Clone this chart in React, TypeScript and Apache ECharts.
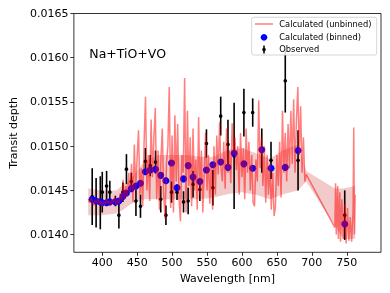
import { useEffect, useRef } from "react";
import * as echarts from "echarts";

// Unbinned model spectrum (wavelength in nm, transit depth)
const unbinnedWavelength = [
  380, 382, 384, 386, 388, 390, 392, 394, 396, 398, 400, 402, 404, 406, 408, 410, 412, 414, 416, 418, 420, 422, 424,
  426, 428, 430, 432, 434, 436, 438, 440, 442, 444,
  446, 448, 450, 452, 454, 456, 458, 460, 462, 464,
  466, 468, 470, 472, 474, 476, 478, 480, 482, 484,
  486, 488, 490, 492, 494, 496, 498, 500, 502, 504,
  506, 508, 510, 512, 514, 516, 518, 520, 522, 524,
  526, 528, 530, 532, 534, 536, 538, 540, 542, 544,
  546, 548, 550, 552, 554, 556, 558, 560, 562, 564,
  566, 568, 570, 572, 574, 576, 578, 580, 582, 584,
  586, 588, 590, 592, 594, 596, 598, 600, 602, 604,
  606, 608, 610, 612, 614, 616, 618, 620, 622, 624,
  626, 628, 630, 632, 634, 636, 638, 640, 642, 644,
  646, 648, 650, 652, 654, 656, 658, 660, 662, 664,
  666, 668, 670, 672, 674, 676, 678, 680, 682, 684,
  686, 688, 690, 692,
  733, 734, 735, 737, 738, 740, 741, 743, 745, 747, 749, 751, 753, 755, 757, 759, 760, 761, 762,
];
const unbinnedDepth = [
  0.01440, 0.01436, 0.01442, 0.01437, 0.01433, 0.01439, 0.01435, 0.01441, 0.01434, 0.01438, 0.01432, 0.01437,
  0.01434, 0.01440, 0.01435, 0.01438, 0.01433, 0.01440, 0.01436, 0.01442, 0.01434, 0.01439, 0.01435,
  0.01447, 0.01438, 0.01462, 0.01440, 0.01455, 0.01443, 0.01470, 0.01448, 0.01480, 0.01437,
  0.01502, 0.01450, 0.01488, 0.01518, 0.01445, 0.01475, 0.01432, 0.01505, 0.01556, 0.01450,
  0.01490, 0.01438, 0.01530, 0.01465, 0.01510, 0.01543, 0.01440, 0.01495, 0.01428, 0.01485,
  0.01520, 0.01445, 0.01418, 0.01480, 0.01500, 0.01567, 0.01430, 0.01512, 0.01425, 0.01535,
  0.01460, 0.01525, 0.01440, 0.01415, 0.01490, 0.01470, 0.01577, 0.01425, 0.01540, 0.01455,
  0.01510, 0.01432, 0.01520, 0.01450, 0.01485, 0.01428, 0.01533, 0.01445, 0.01495, 0.01425,
  0.01470, 0.01515, 0.01450, 0.01490, 0.01435, 0.01480, 0.01428, 0.01500, 0.01445, 0.01512,
  0.01468, 0.01527, 0.01475, 0.01460, 0.01505, 0.01452, 0.01520, 0.01470, 0.01495, 0.01458,
  0.01526, 0.01490, 0.01510, 0.01473, 0.01500, 0.01445, 0.01515, 0.01465, 0.01498, 0.01440,
  0.01520, 0.01470, 0.01505, 0.01450, 0.01490, 0.01436, 0.01432, 0.01485, 0.01460, 0.01552,
  0.01475, 0.01510, 0.01455, 0.01500, 0.01436, 0.01490, 0.01445, 0.01480, 0.01428, 0.01470,
  0.01421, 0.01432, 0.01490, 0.01455, 0.01505, 0.01442, 0.01540, 0.01470, 0.01515, 0.01460,
  0.01525, 0.01475, 0.01540, 0.01480, 0.01553, 0.01470, 0.01530, 0.01567, 0.01490, 0.01545,
  0.01470, 0.01510, 0.01460, 0.01468,
  0.01408, 0.01458, 0.01400, 0.01455, 0.01395, 0.01448, 0.01392, 0.01440, 0.01395, 0.01435, 0.01390, 0.01430,
  0.01393, 0.01420, 0.01392, 0.01425, 0.01521, 0.01400, 0.01445,
];

// Model uncertainty band
const bandWavelength = [380, 400, 420, 430, 440, 460, 480, 500, 520, 540, 560, 580, 600, 620, 640, 660, 680, 692, 733, 745, 762];
const bandLower = [0.01422, 0.01422, 0.01424, 0.01428, 0.01434, 0.0144, 0.0144, 0.0144, 0.0144, 0.0144, 0.01442, 0.01446, 0.01448, 0.01445, 0.0144, 0.01446, 0.0145, 0.0146, 0.0141, 0.01395, 0.01395];
const bandUpper = [0.01452, 0.0145, 0.0145, 0.01456, 0.01462, 0.01482, 0.0149, 0.0149, 0.0149, 0.01488, 0.01488, 0.01496, 0.01498, 0.01492, 0.01486, 0.01496, 0.01502, 0.01472, 0.01452, 0.01452, 0.01455];

// Bins
const binWavelength = [385.7, 391.3, 397.3, 400.1, 406.3, 410.9, 418.9, 423.9, 429.6, 434.7, 441.7, 448.3, 454.8, 461.8, 468.8, 476.3, 483.8, 491.2, 499.2, 507.1, 516.4, 523.0, 530.0, 539.8, 549.2, 558.4, 569.6, 580.0, 588.8, 602.8, 615.4, 628.4, 641.6, 662.0, 680.3, 747.1];
const binnedDepth = [0.0144, 0.01438, 0.01437, 0.01436, 0.01436, 0.01437, 0.01437, 0.01438, 0.01443, 0.01447, 0.01452, 0.01455, 0.01458, 0.01471, 0.01473, 0.01474, 0.01467, 0.01461, 0.01481, 0.01453, 0.01463, 0.01478, 0.01465, 0.0146, 0.01473, 0.01479, 0.01482, 0.01476, 0.01492, 0.0148, 0.01475, 0.01496, 0.01475, 0.01476, 0.01495, 0.01412];
const observedDepth = [0.01443, 0.01436, 0.01436, 0.01448, 0.01455, 0.01448, 0.01438, 0.01422, 0.01448, 0.01474, 0.0146, 0.01438, 0.01432, 0.01483, 0.01478, 0.01482, 0.0144, 0.01422, 0.01448, 0.01448, 0.01437, 0.01438, 0.01457, 0.01451, 0.01503, 0.01453, 0.01534, 0.01502, 0.01489, 0.01538, 0.01538, 0.01495, 0.01484, 0.01574, 0.01484, 0.01422];
const observedError = [0.00032, 0.00028, 0.0003, 0.00023, 0.00017, 0.00013, 0.00006, 0.00015, 0.00011, 0.00017, 0.0001, 0.00017, 0.00013, 0.00015, 0.00012, 0.00013, 0.00015, 0.00011, 0.00012, 0.00009, 0.00012, 0.00015, 0.00015, 0.00013, 0.00016, 0.0002, 0.00022, 0.00028, 0.0006, 0.00027, 0.00016, 0.00025, 0.00021, 0.00036, 0.00034, 0.00028];

const xTicks = [400, 450, 500, 550, 600, 650, 700, 750];
const yTicks = [0.014, 0.0145, 0.015, 0.0155, 0.016, 0.0165];
const legendLabels = ["Calculated (unbinned)", "Calculated (binned)", "Observed"];
const annotation = "Na+TiO+VO";

export default function App() {
  const ref = useRef<HTMLDivElement>(null);
  useEffect(() => {
    const chart = echarts.init(ref.current!, null, { renderer: "svg" });
    const font = "DejaVu Sans";
    chart.setOption({
      animation: false,
      textStyle: { fontFamily: font },
      grid: {
        left: 67.3,
        right: 9,
        top: 13.5,
        bottom: 40.7,
        show: true,
        borderColor: "#000",
        borderWidth: 0.8,
        backgroundColor: "transparent",
      },
      xAxis: {
        type: "value",
        min: 359.5,
        max: 799,
        name: "Wavelength [nm]",
        nameLocation: "middle",
        nameGap: 19,
        nameTextStyle: { fontSize: 11, color: "#000", fontFamily: font },
        axisLine: { show: false },
        splitLine: { show: false },
        axisTick: { show: true, length: 3.5, lineStyle: { color: "#000", width: 0.8 }, customValues: xTicks },
        axisLabel: { customValues: xTicks, fontSize: 11, color: "#000", margin: 5, fontFamily: font },
      },
      yAxis: {
        type: "value",
        min: 0.0138,
        max: 0.0165,
        name: "Transit depth",
        nameLocation: "middle",
        nameRotate: 90,
        nameGap: 48,
        nameTextStyle: { fontSize: 11, color: "#000", fontFamily: font },
        axisLine: { show: false },
        splitLine: { show: false },
        axisTick: { show: true, length: 3.5, lineStyle: { color: "#000", width: 0.8 }, customValues: yTicks },
        axisLabel: {
          customValues: yTicks,
          fontSize: 11,
          color: "#000",
          margin: 5.5,
          fontFamily: font,
          formatter: (v: number) => v.toFixed(4),
        },
      },
      series: [
        {
          type: "custom",
          name: "band",
          z: 1,
          silent: true,
          data: [[bandWavelength[0], bandLower[0]]],
          encode: { x: 0, y: 1 },
          renderItem: (_p: any, api: any) => {
            const pts: number[][] = [];
            for (let i = 0; i < bandWavelength.length; i++) pts.push(api.coord([bandWavelength[i], bandUpper[i]]));
            for (let i = bandWavelength.length - 1; i >= 0; i--) pts.push(api.coord([bandWavelength[i], bandLower[i]]));
            return { type: "polygon", shape: { points: pts }, style: { fill: "rgba(208,64,64,0.28)" } };
          },
        },
        {
          type: "custom",
          name: legendLabels[2],
          z: 2,
          data: binWavelength.map((w, i) => [w, observedDepth[i], observedError[i]]),
          encode: { x: 0, y: 1 },
          renderItem: (_p: any, api: any) => {
            const x = api.value(0);
            const y = api.value(1);
            const e = api.value(2);
            const top = api.coord([x, y + e]);
            const bot = api.coord([x, y - e]);
            const c = api.coord([x, y]);
            return {
              type: "group",
              children: [
                { type: "line", shape: { x1: top[0], y1: top[1], x2: bot[0], y2: bot[1] }, style: { stroke: "#000", lineWidth: 1.6 } },
                { type: "circle", shape: { cx: c[0], cy: c[1], r: 1.8 }, style: { fill: "#000" } },
              ],
            };
          },
        },
        {
          type: "scatter",
          name: legendLabels[1],
          z: 3,
          symbolSize: 7,
          itemStyle: { color: "#0000ff", opacity: 1 },
          data: binWavelength.map((w, i) => [w, binnedDepth[i]]),
        },
        {
          type: "line",
          name: legendLabels[0],
          z: 4,
          symbol: "none",
          showSymbol: false,
          lineStyle: { color: "#ff0000", width: 1.5, opacity: 0.5 },
          data: unbinnedWavelength.map((w, i) => [w, unbinnedDepth[i]]),
        },
      ],
      graphic: [
        {
          type: "rect",
          z: 100,
          shape: { x: 251.7, y: 17.3, width: 125, height: 37.7, r: 2 },
          style: { fill: "rgba(255,255,255,0.85)", stroke: "#cccccc", lineWidth: 0.8 },
        },
        {
          type: "line",
          z: 101,
          shape: { x1: 255, y1: 24, x2: 273, y2: 24 },
          style: { stroke: "rgba(255,0,0,0.5)", lineWidth: 1.5 },
        },
        { type: "circle", z: 101, shape: { cx: 264, cy: 37.3, r: 3.3 }, style: { fill: "#0000ff" } },
        { type: "line", z: 101, shape: { x1: 264, y1: 45.5, x2: 264, y2: 53.5 }, style: { stroke: "#000", lineWidth: 1.5 } },
        { type: "circle", z: 101, shape: { cx: 264, cy: 49.5, r: 1.8 }, style: { fill: "#000" } },
        ...legendLabels.map((t, i) => ({
          type: "text",
          z: 101,
          x: 279.3,
          y: 24 + i * 12.7,
          style: { text: t, fontSize: 8.3, fill: "#000", verticalAlign: "middle", fontFamily: font },
        })),
        {
          type: "text",
          z: 101,
          x: 89.3,
          y: 53.3,
          style: { text: annotation, fontSize: 12.5, fill: "#000", verticalAlign: "middle", fontFamily: font },
        },
      ],
    });
    return () => chart.dispose();
  }, []);
  return <div ref={ref} style={{ position: "fixed", left: 0, top: 0, width: 390, height: 293 }} />;
}
